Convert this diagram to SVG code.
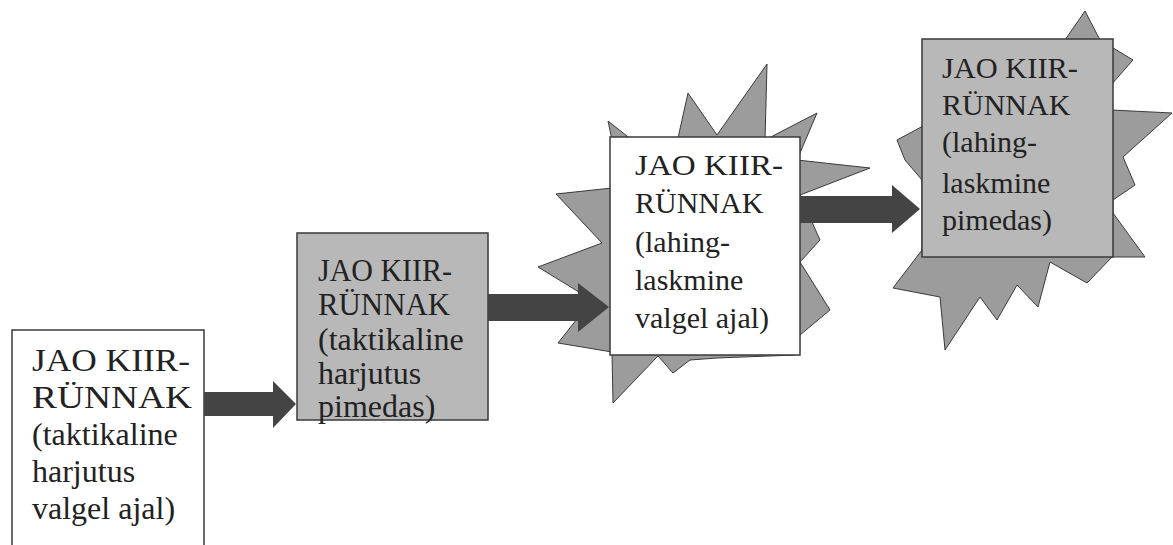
<svg xmlns="http://www.w3.org/2000/svg" width="1173" height="545" viewBox="0 0 1173 545">
<style>
.bg{fill:#ffffff}
.box{stroke:#3a3a3a;stroke-width:1.5}
.white{fill:#ffffff}
.gray{fill:#b8b8b8}
.star{fill:#9c9c9c;stroke:#3a3a3a;stroke-width:1}
.arrow{fill:#444444}
.t{font-size:30px;fill:#222222;font-family:"Liberation Serif","Times New Roman",serif}
.big{font-size:32px}
</style>
<rect class="bg" x="0" y="0" width="1173" height="545"/>
<g id="node-3-star">
<polygon class="star" points="608,121 632,140 678,138 688,93 717,135 767,64 765,140 817,113 797,160 870,168 800,195 820,240 800,262 830,310 800,335 795,355 717,358 690,360 673,373 658,356 613,403 612,352 558,343 592,300 538,267 602,243 556,194 612,188 612,140"/>
</g>
<g id="node-4-star">
<polygon class="star" points="897,140 925,125 1065,40 1085,11 1100,40 1133,60 1111,85 1111,110 1172,113 1123,157 1135,185 1113,200 1113,213 1145,257 1112,257 1087,283 1050,262 1038,307 1017,285 997,320 980,297 945,350 940,297 893,288 922,250 922,180 905,160"/>
</g>
<g id="node-1">
<rect class="box white" x="12" y="330" width="192" height="230"/>
<text class="t big" x="32" y="371" textLength="158" lengthAdjust="spacingAndGlyphs">JAO  KIIR-</text>
<text class="t big" x="32" y="408" textLength="160" lengthAdjust="spacingAndGlyphs">RÜNNAK</text>
<text class="t big" x="32" y="445">(taktikaline</text>
<text class="t big" x="32" y="482">harjutus</text>
<text class="t big" x="32" y="519">valgel ajal)</text>
</g>
<g id="node-2">
<rect class="box gray" x="297" y="233" width="191" height="187"/>
<text class="t big" x="318" y="281" textLength="134" lengthAdjust="spacingAndGlyphs">JAO KIIR-</text>
<text class="t big" x="318" y="315" textLength="132" lengthAdjust="spacingAndGlyphs">RÜNNAK</text>
<text class="t big" x="318" y="350">(taktikaline</text>
<text class="t big" x="318" y="384">harjutus</text>
<text class="t big" x="318" y="417">pimedas)</text>
</g>
<g id="node-3">
<rect class="box white" x="610" y="137" width="190" height="218"/>
<text class="t" x="635" y="175" textLength="148" lengthAdjust="spacingAndGlyphs">JAO KIIR-</text>
<text class="t" x="635" y="213">RÜNNAK</text>
<text class="t" x="635" y="252">(lahing-</text>
<text class="t" x="635" y="290">laskmine</text>
<text class="t" x="635" y="328">valgel ajal)</text>
</g>
<g id="node-4">
<rect class="box gray" x="922" y="39" width="191" height="218"/>
<text class="t" x="942" y="78" textLength="136" lengthAdjust="spacingAndGlyphs">JAO KIIR-</text>
<text class="t" x="942" y="115">RÜNNAK</text>
<text class="t" x="942" y="152">(lahing-</text>
<text class="t" x="942" y="193">laskmine</text>
<text class="t" x="942" y="230">pimedas)</text>
</g>
<g id="connectors">
<polygon class="arrow" points="204,392 273,392 273,381 296,404 273,428 273,416 204,416"/>
<polygon class="arrow" points="488,294 578,294 578,283 609,307 578,332 578,321 488,321"/>
<polygon class="arrow" points="800,196 892,196 892,185 920,209 892,233 892,223 800,223"/>
</g>
</svg>
